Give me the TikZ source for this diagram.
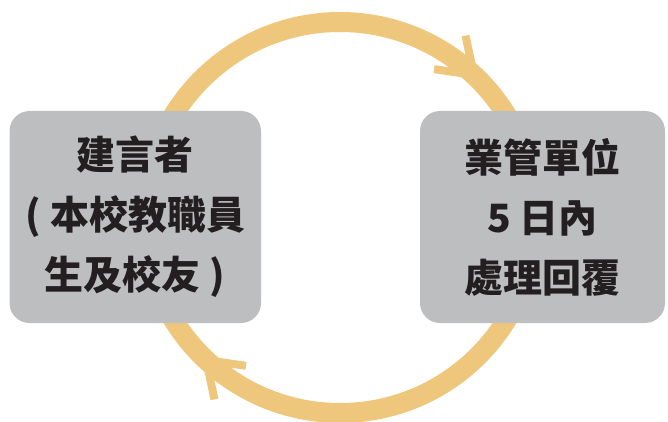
\documentclass[tikz,border=0pt]{standalone}
\usepackage{fontspec}
\newfontfamily\cjk{Noto Sans CJK TC}
\usetikzlibrary{decorations.markings,backgrounds}
\definecolor{loopgold}{HTML}{EFC77C}
\definecolor{boxgrey}{HTML}{BCBEC0}
\definecolor{inkdark}{HTML}{231F20}

\begin{document}
\begin{tikzpicture}[x=1pt,y=1pt,
	box/.style={fill=boxgrey,rounded corners=20pt,text=inkdark,align=center,
		minimum height=212pt,inner sep=0pt,font=\cjk\bfseries\fontsize{39}{60}\selectfont},
	barb/.style={loopgold,line width=8pt},
	cyclearc/.style={loopgold,line width=20pt,postaction=decorate,
		decoration={markings,mark=at position 0.74 with {\draw[barb] (-33,23)--(0,0)--(-33,-23);}}}]
			\def\rr{195.5}
			\useasboundingbox (0,0) rectangle (668,421);
			
			\coordinate (c) at (340,203.5);
			
			\node[box,minimum width=251.5pt] (adv) at (135.25,204) {建言者\\( 本校教職員\\生及校友 )};
			\node[box,minimum width=245pt] (unit) at (542.5,204) {業管單位\\5 日內\\處理回覆};
			
			\begin{pgfonlayer}{background}
				\draw[cyclearc] (c) ++(180:\rr) arc[start angle=180,end angle=0,radius=\rr];
				\draw[cyclearc] (c) ++(0:\rr) arc[start angle=0,end angle=-180,radius=\rr];
			\end{pgfonlayer}
		\end{tikzpicture}
\end{document}
